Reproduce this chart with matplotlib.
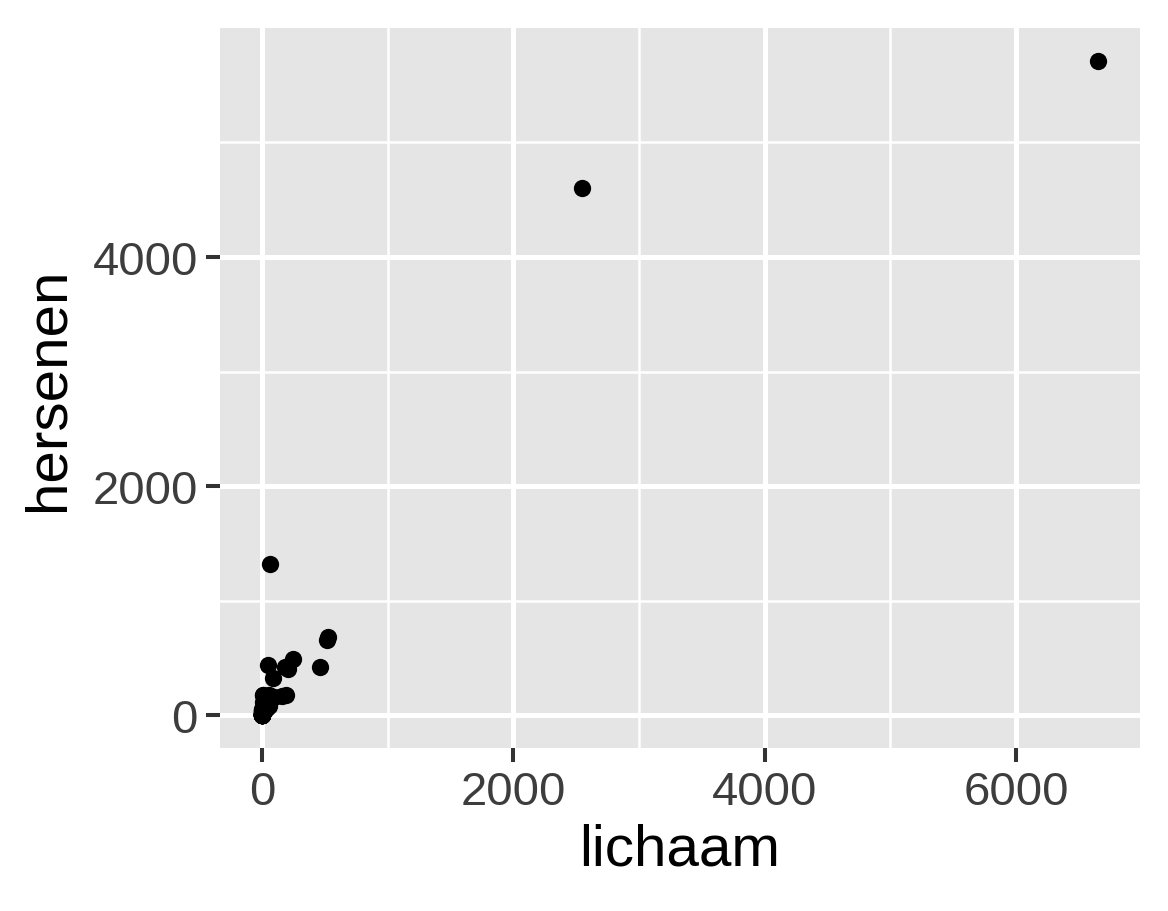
import matplotlib
matplotlib.use("Agg")
import matplotlib.pyplot as plt
import numpy as np

# MASS mammals: body weight (kg) and brain weight (g)
lichaam = [3.385, 0.48, 1.35, 465.0, 36.33, 27.66, 14.83, 1.04, 4.19, 0.425,
           0.101, 0.92, 1.0, 0.005, 0.06, 3.5, 2.0, 1.7, 2547.0, 0.023,
           187.1, 521.0, 0.785, 10.0, 3.3, 0.2, 1.41, 529.0, 207.0, 85.0,
           0.75, 62.0, 6654.0, 3.5, 6.8, 35.0, 4.05, 0.12, 0.023, 0.01,
           1.4, 250.0, 2.5, 55.5, 100.0, 52.16, 10.55, 0.55, 60.0, 3.6,
           4.288, 0.28, 0.075, 0.122, 0.048, 192.0, 3.0, 160.0, 0.9, 1.62,
           0.104, 4.235]
hersenen = [44.5, 15.5, 8.1, 423.0, 119.5, 115.0, 98.2, 5.5, 58.0, 6.4,
            4.0, 5.7, 6.6, 0.14, 1.0, 10.8, 12.3, 6.3, 4603.0, 0.3,
            419.0, 655.0, 3.5, 115.0, 25.6, 5.0, 17.5, 680.0, 406.0, 325.0,
            12.3, 1320.0, 5712.0, 3.9, 179.0, 56.0, 17.0, 1.0, 0.4, 0.25,
            12.5, 490.0, 12.1, 175.0, 157.0, 440.0, 179.5, 2.4, 81.0, 21.0,
            39.2, 1.9, 1.2, 3.0, 0.33, 180.0, 25.0, 169.0, 2.6, 11.4,
            2.5, 50.4]

x_ticks = [0, 2000, 4000, 6000]
y_ticks = [0, 2000, 4000]

plt.rcParams['font.family'] = ['Liberation Sans', 'DejaVu Sans']

fig = plt.figure(figsize=(11.68, 9.12), dpi=100)
ax = fig.add_axes([220 / 1168, 1 - 749 / 912, 920 / 1168, 720 / 912])
ax.set_facecolor('#e5e5e5')

x = np.array(lichaam)
y = np.array(hersenen)
# ggplot-style 5% expansion
xr = x.max() - x.min()
yr = y.max() - y.min()
ax.set_xlim(x.min() - 0.05 * xr, x.max() + 0.05 * xr)
ax.set_ylim(y.min() - 0.05 * yr, y.max() + 0.05 * yr)

ax.set_xticks(x_ticks)
ax.set_yticks(y_ticks)
ax.set_xticks([1000, 3000, 5000], minor=True)
ax.set_yticks([1000, 3000, 5000], minor=True)
ax.grid(True, which='major', color='white', linewidth=3.6)
ax.grid(True, which='minor', color='white', linewidth=1.8)
ax.set_axisbelow(True)

ax.scatter(x, y, s=155, color='black', linewidths=0, zorder=3)

for sp in ax.spines.values():
    sp.set_visible(False)

ax.tick_params(which='major', length=10, width=2.9, color='#333333',
               labelsize=34, labelcolor='#3d3d3d', pad=6)
ax.tick_params(which='minor', length=0)

ax.set_xlabel('lichaam', fontsize=42, color='black', labelpad=6)
ax.set_ylabel('hersenen', fontsize=42, color='black', labelpad=12)

fig.savefig('out.png', dpi=100, facecolor='white')
